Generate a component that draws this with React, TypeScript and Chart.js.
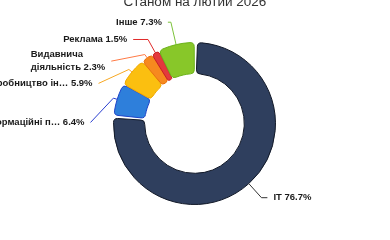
import React, { useEffect, useRef } from 'react';
import { Chart, registerables } from 'chart.js';

Chart.register(...registerables);

const subtitle = 'Станом на лютий 2026';
const categories = ['IT', 'Інформаційні п…', 'Виробництво ін…', 'Видавнича\nдіяльність', 'Реклама', 'Інше'];
const shares = [76.7, 6.4, 5.9, 2.3, 1.5, 7.3];

const fillColors = ['#2f3f5e', '#2e7fdb', '#fbbf10', '#f6891f', '#e3393d', '#88c729'];
const borderColors = ['#111827', '#1f44c8', '#f0a800', '#e8700c', '#c81e24', '#6cb21a'];
const lineColors = ['#333333', '#2a3fd0', '#f7a823', '#ff7a45', '#e02a2a', '#7cc23a'];
const labelShift = [-3, 30, 26, 22, 7, 0];

const FONT = '"Liberation Sans", Arial, sans-serif';

const labelPlugin = {
  id: 'outerLabels',
  afterDraw(chart: any) {
    const ctx = chart.ctx as CanvasRenderingContext2D;
    const meta = chart.getDatasetMeta(0);
    const data = chart.data.datasets[0].data as number[];
    const labels = chart.data.labels as string[];
    ctx.save();
    ctx.font = `13.5px ${FONT}`;
    ctx.fillStyle = '#333333';
    ctx.textAlign = 'center';
    ctx.textBaseline = 'alphabetic';
    ctx.fillText(subtitle, chart.width / 2, 5.5);

    meta.data.forEach((arc: any, i: number) => {
      const { x, y, startAngle, endAngle, outerRadius } = arc.getProps(
        ['x', 'y', 'startAngle', 'endAngle', 'outerRadius'],
        true
      );
      const mid = (startAngle + endAngle) / 2;
      const cos = Math.cos(mid);
      const sin = Math.sin(mid);
      const right = cos >= 0;
      const labelR = outerRadius + 24;
      const ly = y + labelR * sin + labelShift[i];
      const p1 = { x: x + (outerRadius + 1) * cos, y: y + (outerRadius + 1) * sin };
      let t = Math.abs(sin) > 0.05 ? (ly - y) / sin : labelR;
      t = Math.max(outerRadius + 5, Math.min(t, labelR + 4));
      const p2 = { x: x + t * cos, y: y + t * sin };
      const dy = ly - y;
      const dx = Math.sqrt(Math.max(labelR * labelR - dy * dy, 0));
      let p3x = right ? x + dx : x - dx;
      p3x = right ? Math.max(p3x, p2.x + 3) : Math.min(p3x, p2.x - 3);

      ctx.strokeStyle = lineColors[i];
      ctx.lineWidth = 1;
      ctx.beginPath();
      ctx.moveTo(p1.x, p1.y);
      ctx.lineTo(p2.x, p2.y);
      ctx.lineTo(p3x, ly);
      ctx.stroke();

      const text = `${labels[i]} ${data[i].toFixed(1)}%`;
      const lines = text.split('\n');
      ctx.font = `bold 9.5px ${FONT}`;
      ctx.fillStyle = '#1a1a1a';
      ctx.textAlign = 'left';
      ctx.textBaseline = 'middle';
      const maxW = Math.max(...lines.map((l) => ctx.measureText(l).width));
      const gap = 6;
      const left = right ? p3x + gap : p3x - gap - maxW;
      const lh = 13;
      lines.forEach((l, j) => {
        ctx.fillText(l, left, ly + (j - (lines.length - 1) / 2) * lh);
      });
    });
    ctx.restore();
  },
};

export default function App() {
  const ref = useRef<HTMLCanvasElement | null>(null);
  useEffect(() => {
    if (!ref.current) return;
    const chart = new Chart(ref.current, {
      type: 'doughnut',
      data: {
        labels: categories,
        datasets: [
          {
            data: shares,
            backgroundColor: fillColors,
            borderColor: borderColors,
            borderWidth: 1,
            borderRadius: 4,
            spacing: 2,
          } as any,
        ],
      },
      options: {
        responsive: false,
        animation: false,
        cutout: '61%',
        layout: { padding: { top: 42, bottom: 35, left: 113, right: 114 } },
        plugins: { legend: { display: false }, tooltip: { enabled: false } },
      } as any,
      plugins: [labelPlugin],
    });
    return () => chart.destroy();
  }, []);
  return (
    <div style={{ position: 'absolute', left: 0, top: 0, width: 390, height: 240 }}>
      <canvas ref={ref} width={390} height={240} style={{ display: 'block' }} />
    </div>
  );
}
